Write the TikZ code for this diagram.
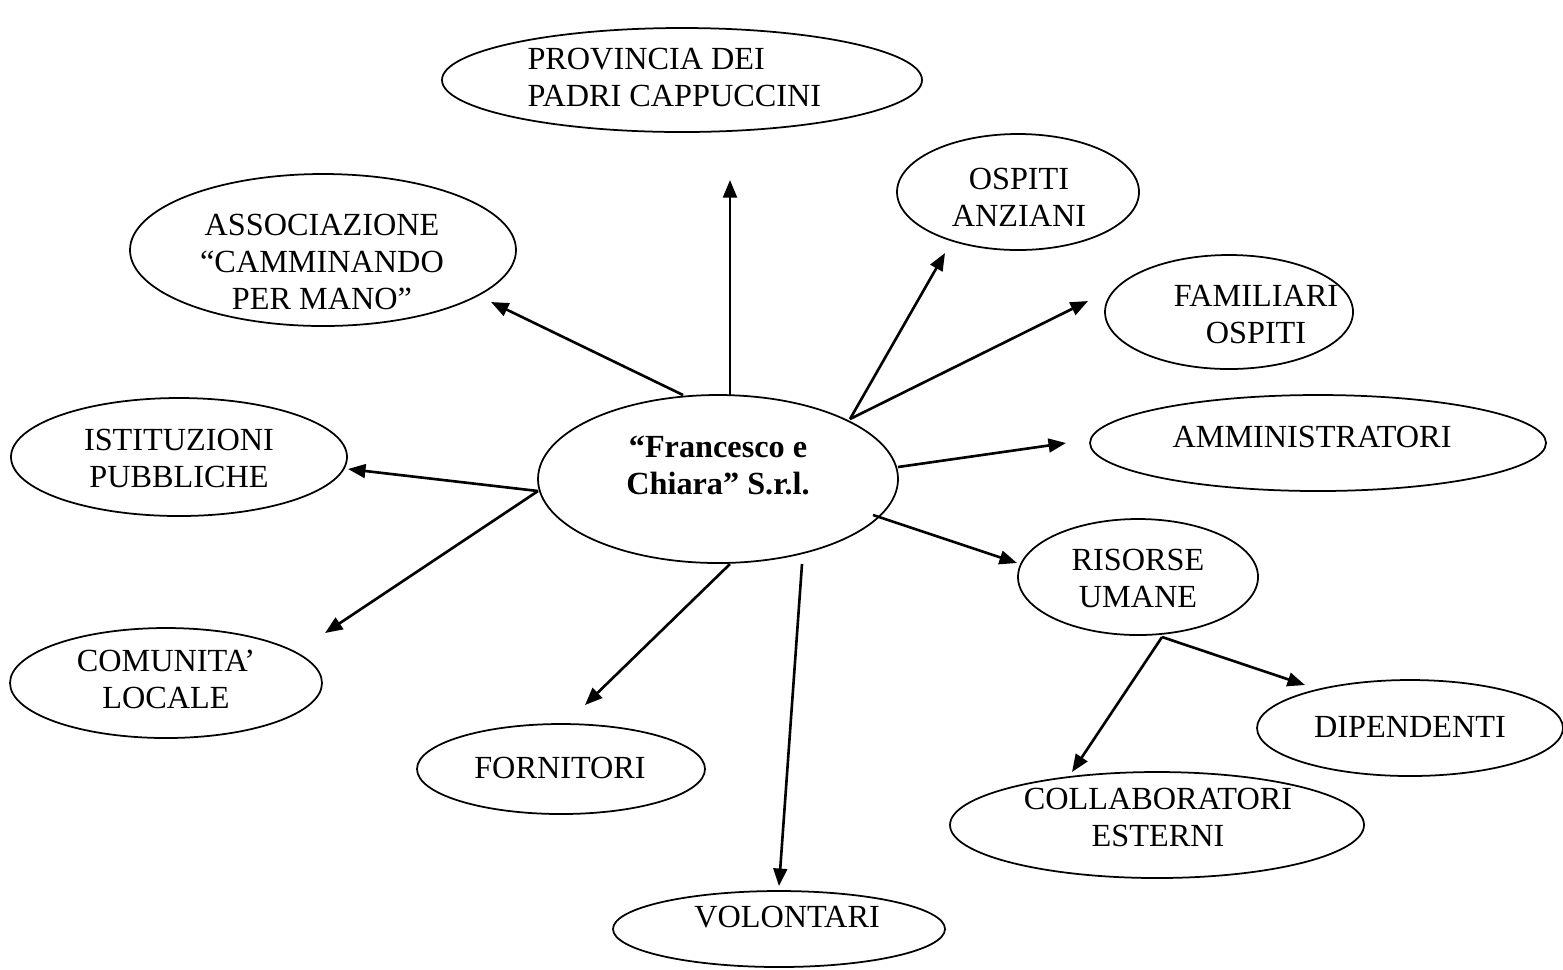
\documentclass[tikz,border=0pt]{standalone}
\usepackage{fontspec}
\setmainfont{Liberation Serif}
\usetikzlibrary{shapes.geometric,arrows.meta}
\tikzset{
  ell/.style={ellipse,draw,line width=0.7pt,inner sep=0pt},
  lbl/.style={align=center,inner sep=0pt,font=\fontsize{12.9}{14.8}\selectfont},
  arr/.style={line width=1.05pt,-{Triangle[length=7pt,width=5.5pt]}}
}
\newcommand{\ellnode}[5]{\node[ell,minimum width=#4*0.8pt,minimum height=#5*0.8pt] (#1) at (#2,#3) {};}
\begin{document}
\begin{tikzpicture}[x=0.4pt,y=-0.4pt]
\useasboundingbox (0,0) rectangle (1563,969);
% ellipses
\ellnode{prov}{682}{80}{240}{52}
\ellnode{assoc}{323}{250}{193}{76}
\ellnode{osp}{1018}{192}{121}{58}
\ellnode{fam}{1229}{312}{124}{57}
\ellnode{amm}{1318}{443}{228}{48}
\ellnode{ist}{179}{457}{168}{59}
\ellnode{cent}{718}{479}{180}{84}
\ellnode{ris}{1138}{577}{120}{58}
\ellnode{com}{166}{683}{156}{55}
\ellnode{forn}{561}{769}{144}{45}
\ellnode{dip}{1410}{728}{153}{48}
\ellnode{coll}{1157}{825}{207}{53}
\ellnode{vol}{779}{929}{166}{38}
% labels
\node[lbl,align=left,anchor=west] (provT) at (527,77) {PROVINCIA DEI\\PADRI CAPPUCCINI};
\node[lbl] (assocT) at (322,262) {ASSOCIAZIONE\\``CAMMINANDO\\PER MANO''};
\node[lbl] (ospT) at (1019,197) {OSPITI\\ANZIANI};
\node[lbl] (famT) at (1256,314) {FAMILIARI\\OSPITI};
\node[lbl] (ammT) at (1312,437) {AMMINISTRATORI};
\node[lbl] (istT) at (179,458) {ISTITUZIONI\\PUBBLICHE};
\node[lbl,font=\fontsize{12.9}{14.8}\selectfont\bfseries] (centT) at (718,465) {``Francesco e\\Chiara'' S.r.l.};
\node[lbl] (risT) at (1138,578) {RISORSE\\UMANE};
\node[lbl] (comT) at (166,679) {COMUNITA'\\LOCALE};
\node[lbl] (fornT) at (560,768) {FORNITORI};
\node[lbl] (dipT) at (1410,727) {DIPENDENTI};
\node[lbl] (collT) at (1158,817) {COLLABORATORI\\ESTERNI};
\node[lbl] (volT) at (787,917) {VOLONTARI};
% arrow endpoints
\coordinate (a1s) at (730,395); \coordinate (a1e) at (730,180);
\coordinate (a2s) at (683,395); \coordinate (a2e) at (491,302);
\coordinate (a3s) at (850,419); \coordinate (a3e) at (945,253);
\coordinate (a4e) at (1088,301);
\coordinate (a5s) at (898,467); \coordinate (a5e) at (1066,443);
\coordinate (a6s) at (538,491); \coordinate (a6e) at (348,469);
\coordinate (a7e) at (325,633);
\coordinate (a8s) at (730,564); \coordinate (a8e) at (585,705);
\coordinate (a9s) at (802,564); \coordinate (a9e) at (779,886);
\coordinate (a10s) at (873,515); \coordinate (a10e) at (1017,563);
\coordinate (r0) at (1162,637); \coordinate (r1e) at (1305,685); \coordinate (r2e) at (1072,772);
% arrows
\draw[arr] (a1s) -- (a1e);
\draw[arr] (a2s) -- (a2e);
\draw[arr] (a3s) -- (a3e);
\draw[arr] (a3s) -- (a4e);
\draw[arr] (a5s) -- (a5e);
\draw[arr] (a6s) -- (a6e);
\draw[arr] (a6s) -- (a7e);
\draw[arr] (a8s) -- (a8e);
\draw[arr] (a9s) -- (a9e);
\draw[arr] (a10s) -- (a10e);
\draw[arr] (r0) -- (r1e);
\draw[arr] (r0) -- (r2e);
\end{tikzpicture}
\end{document}
